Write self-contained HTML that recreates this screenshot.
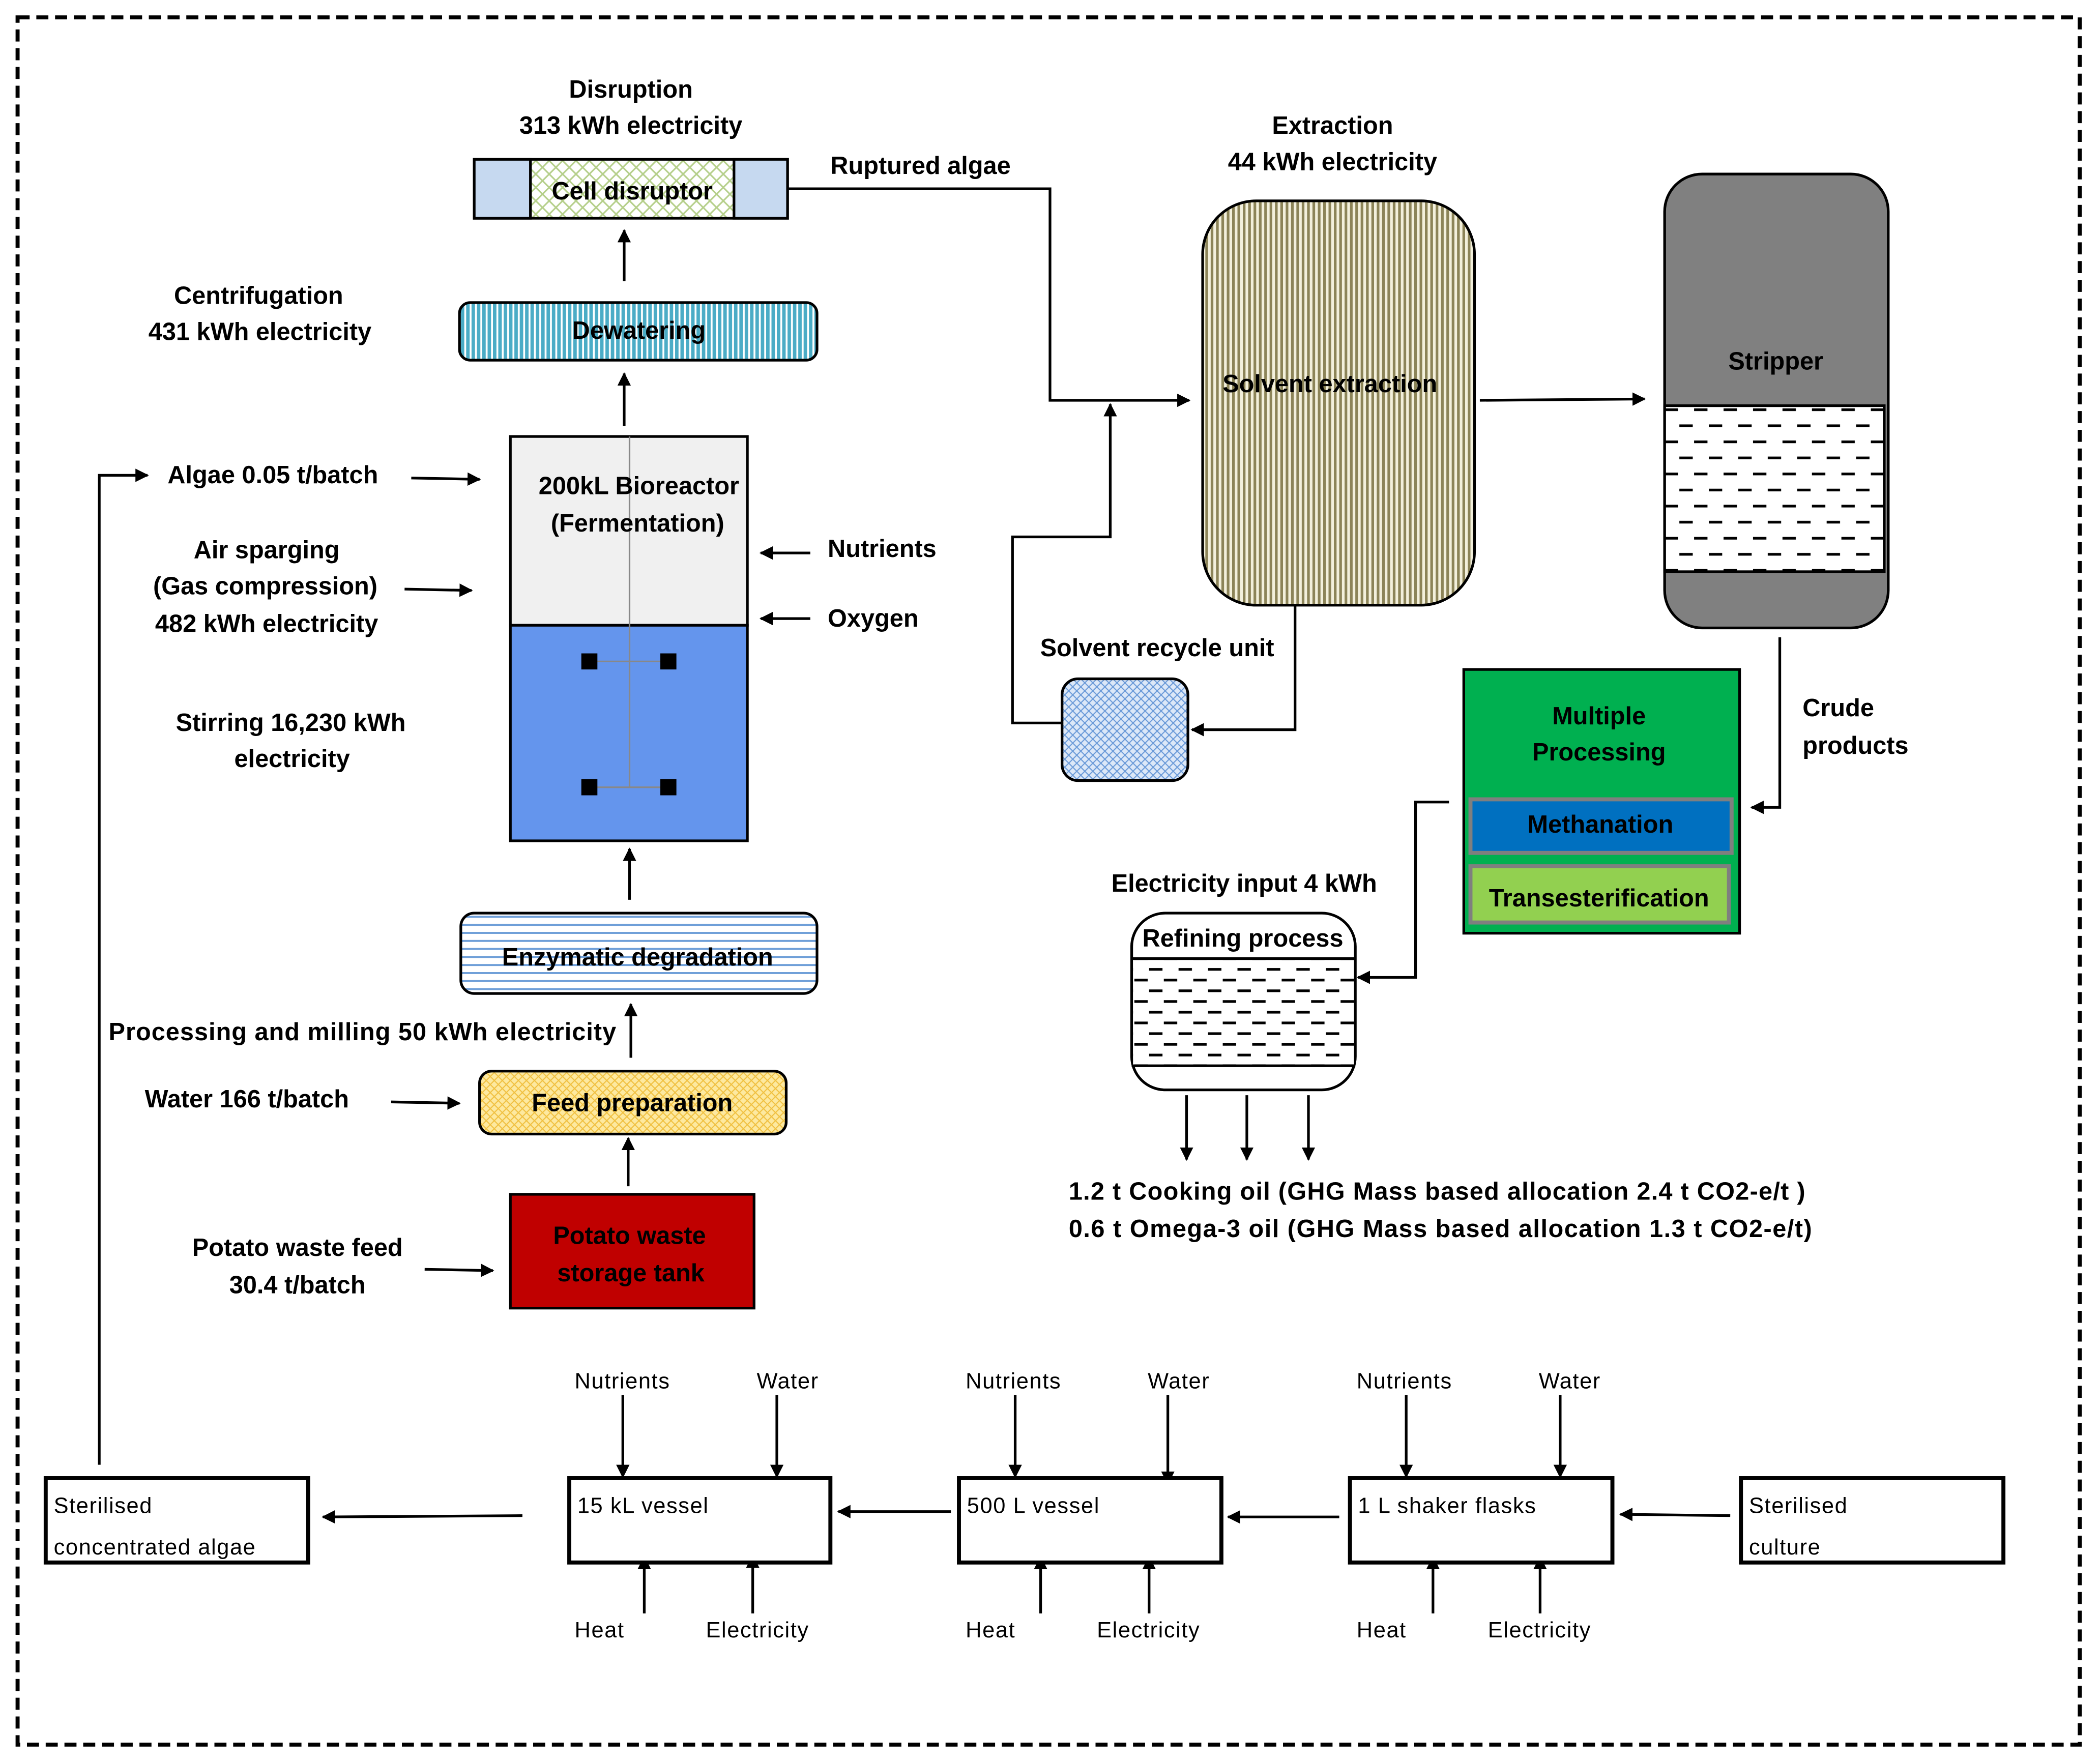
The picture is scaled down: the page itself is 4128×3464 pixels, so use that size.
<!DOCTYPE html>
<html><head><meta charset="utf-8"><style>
html,body{margin:0;padding:0;background:#fff}
svg{display:block}
text{font-family:"Liberation Sans",sans-serif}
.b{font-weight:bold;font-size:18.5px}
.n{font-size:16.5px;letter-spacing:0.6px}
</style></head><body>
<svg width="4128" height="3464" viewBox="0 0 1568 1316" xmlns="http://www.w3.org/2000/svg">
<defs>
<marker id="a" markerWidth="10" markerHeight="10" refX="9" refY="5" orient="auto" markerUnits="userSpaceOnUse"><path d="M0,0 L10,5 L0,10 z" fill="#000"/></marker>
<pattern id="grn" width="10" height="10" patternUnits="userSpaceOnUse"><rect width="10" height="10" fill="#fff"/><path d="M0,0 L10,10 M10,0 L0,10" stroke="#b5cf8a" stroke-width="1.2"/></pattern>
<pattern id="vs" width="4" height="4" patternUnits="userSpaceOnUse"><rect width="4" height="4" fill="#fff"/><rect width="2.6" height="4" fill="#4bacc6"/></pattern>
<pattern id="ol" width="4" height="4" patternUnits="userSpaceOnUse"><rect width="4" height="4" fill="#f3f0dc"/><rect width="2" height="4" fill="#8c8458"/></pattern>
<pattern id="hl" width="6" height="6" patternUnits="userSpaceOnUse"><rect width="6" height="6" fill="#fff"/><rect y="0" width="6" height="1.5" fill="#6f9fd8"/></pattern>
<pattern id="yl" width="6" height="6" patternUnits="userSpaceOnUse"><rect width="6" height="6" fill="#fde9a0"/><path d="M0,0 L6,6 M6,0 L0,6" stroke="#f0c040" stroke-width="0.8"/></pattern>
<pattern id="bl" width="6" height="6" patternUnits="userSpaceOnUse"><rect width="6" height="6" fill="#dce8f8"/><path d="M0,0 L6,6 M6,0 L0,6" stroke="#6a9ad8" stroke-width="0.8"/></pattern>
<pattern id="ds" width="22" height="24" patternUnits="userSpaceOnUse"><rect width="22" height="24" fill="#fff"/><rect x="0" y="5" width="10" height="2" fill="#000"/><rect x="11" y="17" width="10" height="2" fill="#000"/></pattern>
<pattern id="ds2" width="22" height="16" patternUnits="userSpaceOnUse"><rect width="22" height="16" fill="#fff"/><rect x="0" y="3" width="10" height="2" fill="#000"/><rect x="11" y="11" width="10" height="2" fill="#000"/></pattern>
</defs>
<rect x="13" y="13" width="1540" height="1290" fill="none" stroke="#000" stroke-width="3" stroke-dasharray="9,5"/>

<g stroke="#000" stroke-width="2" fill="none">
<rect x="354" y="119" width="234" height="44" fill="url(#grn)"/>
<rect x="354" y="119" width="42" height="44" fill="#c6d9f0"/>
<rect x="548" y="119" width="40" height="44" fill="#c6d9f0"/>
<rect x="343" y="226" width="267" height="43" rx="8" fill="url(#vs)"/>
<rect x="381" y="326" width="177" height="141" fill="#f0f0f0"/>
<rect x="381" y="467" width="177" height="161" fill="#6495ed"/>
<rect x="344" y="682" width="266" height="60" rx="10" fill="url(#hl)"/>
<rect x="358" y="800" width="229" height="47" rx="9" fill="url(#yl)"/>
<rect x="381" y="892" width="182" height="85" fill="#c00000"/>
<rect x="898" y="150" width="203" height="302" rx="40" fill="url(#ol)"/>
<rect x="793" y="507" width="94" height="76" rx="12" fill="url(#bl)"/>
<rect x="1243" y="130" width="167" height="339" rx="28" fill="#808080"/>
<rect x="1243" y="303" width="164" height="124" fill="url(#ds)"/>
<rect x="1093" y="500" width="206" height="197" fill="#00b050"/>
<rect x="1098" y="597" width="195" height="40" fill="#0070c0" stroke="#7f7f7f" stroke-width="3"/>
<rect x="1098" y="647" width="193" height="42" fill="#92d050" stroke="#7f7f7f" stroke-width="3"/>
<rect x="845" y="682" width="167" height="132" rx="25" fill="#fff"/>
<rect x="846" y="716" width="165" height="80" fill="url(#ds2)" stroke="none"/>
<line x1="845" y1="716" x2="1012" y2="716"/><line x1="845" y1="796" x2="1012" y2="796"/>
</g>
<line x1="470" y1="326" x2="470" y2="588" stroke="#888" stroke-width="1.2"/>
<line x1="440" y1="494" x2="499" y2="494" stroke="#888" stroke-width="1.2"/>
<line x1="440" y1="588" x2="499" y2="588" stroke="#888" stroke-width="1.2"/>
<g fill="#000"><rect x="434" y="488" width="12" height="12"/><rect x="493" y="488" width="12" height="12"/><rect x="434" y="582" width="12" height="12"/><rect x="493" y="582" width="12" height="12"/></g>

<g stroke="#000" stroke-width="2" fill="none" marker-end="url(#a)">
<line x1="466" y1="210" x2="466" y2="172"/>
<line x1="466" y1="318" x2="466" y2="279"/>
<line x1="470" y1="672" x2="470" y2="634"/>
<line x1="471" y1="790" x2="471" y2="750"/>
<line x1="469" y1="886" x2="469" y2="850"/>
<line x1="307" y1="357" x2="358" y2="358"/>
<line x1="302" y1="440" x2="352" y2="441"/>
<line x1="605" y1="413" x2="568" y2="413"/>
<line x1="605" y1="462" x2="568" y2="462"/>
<line x1="292" y1="823" x2="343" y2="824"/>
<line x1="317" y1="948" x2="368" y2="949"/>
<polyline points="74,1094 74,355 110,355"/>
<polyline points="588,141 784,141 784,299 888,299"/>
<polyline points="967,452 967,545 890,545"/>
<polyline points="793,540 756,540 756,401 829,401 829,302"/>
<line x1="1105" y1="299" x2="1228" y2="298"/>
<polyline points="1329,476 1329,603 1308,603"/>
<polyline points="1082,599 1057,599 1057,730 1014,730"/>
<line x1="886" y1="818" x2="886" y2="866"/>
<line x1="931" y1="818" x2="931" y2="866"/>
<line x1="977" y1="818" x2="977" y2="866"/>
<line x1="390" y1="1132" x2="241" y2="1133"/>
<line x1="710" y1="1129" x2="626" y2="1129"/>
<line x1="1000" y1="1133" x2="917" y2="1133"/>
<line x1="1292" y1="1132" x2="1210" y2="1131"/>
<line x1="465" y1="1042" x2="465" y2="1103"/>
<line x1="580" y1="1042" x2="580" y2="1103"/>
<line x1="758" y1="1042" x2="758" y2="1103"/>
<line x1="872" y1="1042" x2="872" y2="1108"/>
<line x1="1050" y1="1042" x2="1050" y2="1103"/>
<line x1="1165" y1="1042" x2="1165" y2="1103"/>
<line x1="481" y1="1205" x2="481" y2="1163"/>
<line x1="562" y1="1205" x2="562" y2="1162"/>
<line x1="777" y1="1205" x2="777" y2="1163"/>
<line x1="858" y1="1205" x2="858" y2="1163"/>
<line x1="1070" y1="1205" x2="1070" y2="1163"/>
<line x1="1150" y1="1205" x2="1150" y2="1163"/>
</g>

<g stroke="#000" stroke-width="3" fill="#fff">
<rect x="34" y="1104" width="196" height="63"/>
<rect x="425" y="1104" width="195" height="63"/>
<rect x="716" y="1104" width="196" height="63"/>
<rect x="1008" y="1104" width="196" height="63"/>
<rect x="1300" y="1104" width="196" height="63"/>
</g>

<g class="b" text-anchor="middle">
<text x="471" y="73">Disruption</text>
<text x="471" y="100">313 kWh electricity</text>
<text x="472" y="149">Cell disruptor</text>
<text x="477" y="253">Dewatering</text>
<text x="193" y="227">Centrifugation</text>
<text x="194" y="254">431 kWh electricity</text>
<text x="477" y="369">200kL Bioreactor</text>
<text x="476" y="397">(Fermentation)</text>
<text x="199" y="417">Air sparging</text>
<text x="198" y="444">(Gas compression)</text>
<text x="199" y="472">482 kWh electricity</text>
<text x="217" y="546">Stirring 16,230 kWh</text>
<text x="218" y="573">electricity</text>
<text x="476" y="721">Enzymatic degradation</text>
<text x="472" y="830">Feed preparation</text>
<text x="470" y="929">Potato waste</text>
<text x="471" y="957">storage tank</text>
<text x="222" y="938">Potato waste feed</text>
<text x="222" y="966">30.4 t/batch</text>
<text x="995" y="100">Extraction</text>
<text x="995" y="127">44 kWh electricity</text>
<text x="993" y="293">Solvent extraction</text>
<text x="864" y="490">Solvent recycle unit</text>
<text x="1326" y="276">Stripper</text>
<text x="1194" y="541">Multiple</text>
<text x="1194" y="568">Processing</text>
<text x="1195" y="622">Methanation</text>
<text x="1194" y="677">Transesterification</text>
<text x="928" y="707">Refining process</text>
<text x="929" y="666">Electricity input 4 kWh</text>
</g>
<g class="b">
<text x="125" y="361">Algae 0.05 t/batch</text>
<text x="618" y="416">Nutrients</text>
<text x="618" y="468">Oxygen</text>
<text x="81" y="777" textLength="379">Processing and milling 50 kWh electricity</text>
<text x="108" y="827">Water 166 t/batch</text>
<text x="620" y="130">Ruptured algae</text>
<text x="1346" y="535">Crude</text>
<text x="1346" y="563">products</text>
<text x="798" y="896" textLength="550">1.2 t Cooking oil (GHG Mass based allocation 2.4 t CO2-e/t )</text>
<text x="798" y="924" textLength="555">0.6 t Omega-3 oil (GHG Mass based allocation 1.3 t CO2-e/t)</text>
</g>
<g class="n">
<text x="40" y="1130">Sterilised</text>
<text x="40" y="1161">concentrated algae</text>
<text x="431" y="1130">15  kL vessel</text>
<text x="722" y="1130">500  L vessel</text>
<text x="1014" y="1130">1  L shaker flasks</text>
<text x="1306" y="1130">Sterilised</text>
<text x="1306" y="1161">culture</text>
<text x="429" y="1037">Nutrients</text><text x="565" y="1037">Water</text>
<text x="721" y="1037">Nutrients</text><text x="857" y="1037">Water</text>
<text x="1013" y="1037">Nutrients</text><text x="1149" y="1037">Water</text>
<text x="429" y="1223">Heat</text><text x="527" y="1223">Electricity</text>
<text x="721" y="1223">Heat</text><text x="819" y="1223">Electricity</text>
<text x="1013" y="1223">Heat</text><text x="1111" y="1223">Electricity</text>
</g>
</svg>
</body></html>
